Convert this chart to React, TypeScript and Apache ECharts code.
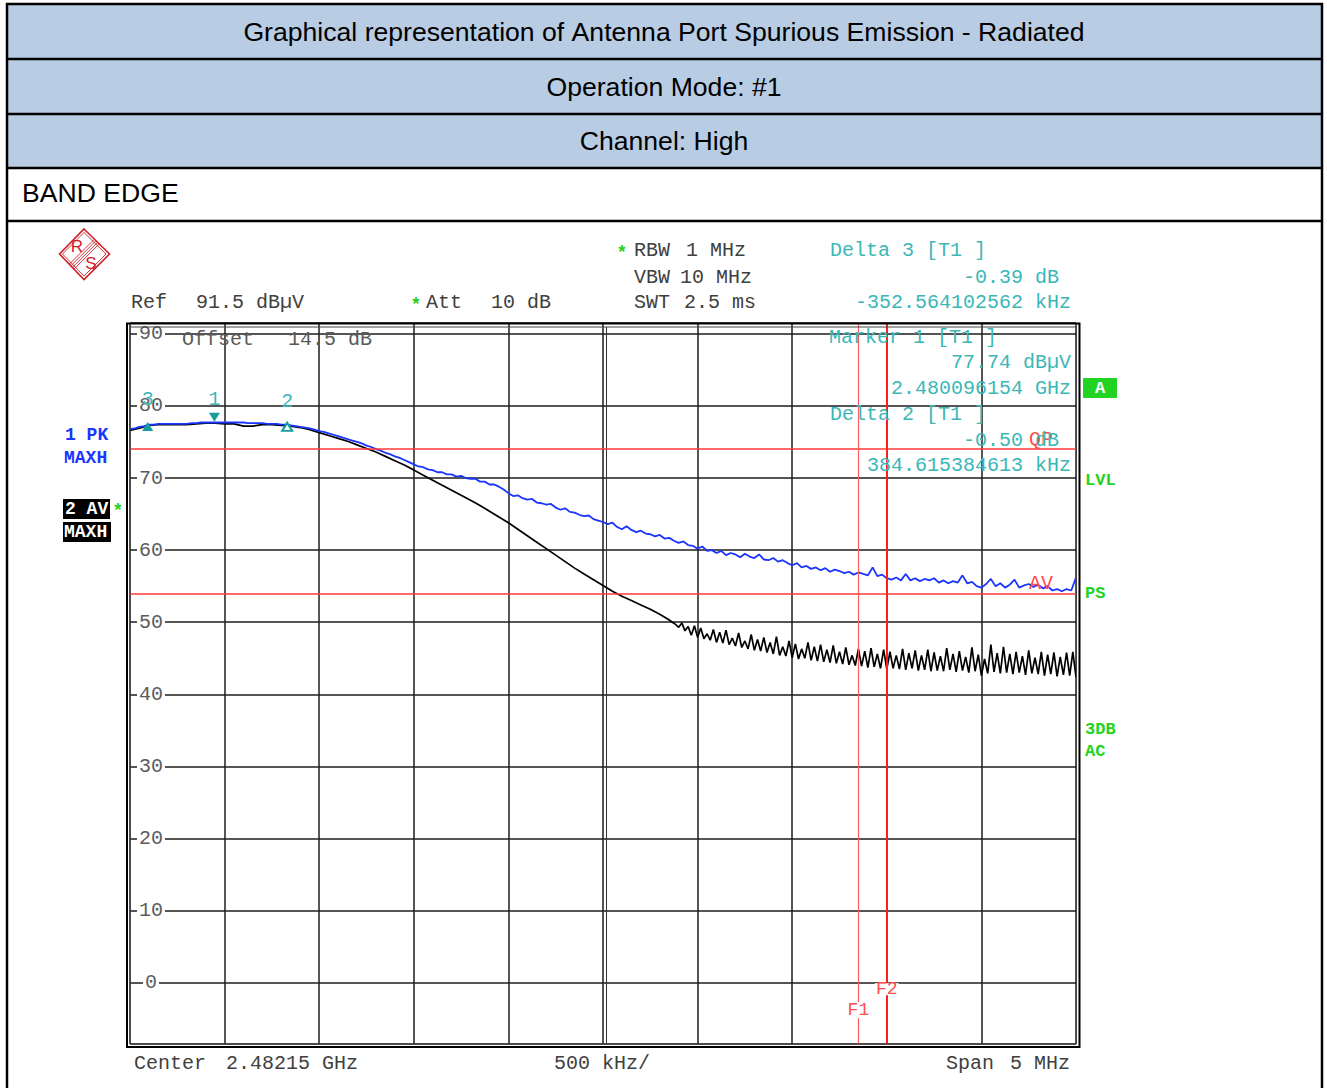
import React, { useEffect, useRef } from "react";
import * as echarts from "echarts";

// ---------------- data ----------------
const titleRows = [
  "Graphical representation of Antenna Port Spurious Emission - Radiated",
  "Operation Mode: #1",
  "Channel: High",
];
const sectionLabel = "BAND EDGE";

// frequency axis: offset (MHz) from start 2.47965 GHz (center 2.48215 GHz, span 5 MHz)
const spanMHz = 5;
const divMHz = 0.5;
const refLevel = 91.5;
const bottomLevel = -8.5;

// Trace 1: PK MAXH (blue), step 0.025 MHz
const pkStepMHz = 0.025;
const pkMaxHold = [
  76.8, 76.9, 77.1, 77.2, 77.4, 77.4, 77.5, 77.5, 77.5, 77.5, 77.5, 77.5, 77.5, 77.6, 77.6, 77.7, 77.7, 77.7, 77.7, 77.7,
  77.7, 77.7, 77.7, 77.7, 77.7, 77.6, 77.6, 77.6, 77.6, 77.5, 77.5, 77.5, 77.4, 77.4, 77.3, 77.2, 77.1, 77.0, 76.9, 76.7,
  76.5, 76.4, 76.2, 76.0, 75.8, 75.6, 75.4, 75.2, 75.0, 74.8, 74.5, 74.3, 74.0, 73.8, 73.5, 73.3, 73.0, 72.8, 72.5, 72.2,
  71.9, 71.6, 71.5, 71.2, 71.1, 70.8, 70.8, 70.5, 70.5, 70.2, 70.3, 70.0, 69.9, 69.9, 69.5, 69.5, 69.1, 69.1, 68.8, 68.4,
  67.9, 67.5, 67.6, 67.2, 67.0, 67.1, 66.6, 66.5, 66.3, 66.4, 65.9, 65.6, 65.8, 65.3, 65.2, 64.9, 64.7, 64.8, 64.3, 64.1,
  63.9, 63.6, 63.8, 63.2, 62.9, 63.3, 62.8, 62.5, 62.7, 62.3, 62.2, 61.9, 62.1, 61.6, 61.7, 61.3, 61.0, 61.2, 60.7, 60.6,
  60.2, 60.5, 59.9, 60.0, 59.6, 59.9, 59.3, 59.6, 59.4, 59.0, 59.5, 59.1, 58.9, 59.4, 58.7, 58.6, 58.9, 58.4, 58.6, 58.2,
  57.9, 58.2, 57.6, 57.8, 57.4, 57.6, 57.2, 57.5, 57.0, 57.3, 57.1, 56.8, 57.0, 56.6, 56.9, 56.7, 56.5, 57.6, 56.4, 56.6,
  56.1, 55.9, 56.2, 55.8, 56.7, 55.8, 56.1, 55.7, 56.0, 55.8, 56.1, 55.5, 55.8, 55.4, 55.7, 55.5, 56.5, 55.4, 55.6, 55.0,
  54.8, 55.3, 56.0, 55.0, 55.4, 54.8, 55.2, 55.9, 54.8, 55.1, 55.3, 54.9, 55.2, 54.7, 55.0, 54.4, 54.6, 54.3, 54.6, 54.4,
  56.2,
];

// Trace 2: AV MAXH (black): smooth part, step 0.05 MHz from 0 to 2.85 MHz
const avSmoothStepMHz = 0.05;
const avMaxHoldSmooth = [
  76.6, 76.9, 77.3, 77.4, 77.4, 77.4, 77.4, 77.5, 77.6, 77.6,
  77.5, 77.5, 77.2, 77.2, 77.4, 77.4, 77.3, 77.2, 77.0, 76.7,
  76.3, 75.9, 75.5, 75.1, 74.6, 74.1, 73.6, 73.0, 72.4, 71.8,
  71.1, 70.4, 69.7, 69.0, 68.3, 67.6, 66.9, 66.2, 65.4, 64.6,
  63.8, 62.9, 62.0, 61.1, 60.2, 59.3, 58.4, 57.5, 56.7, 55.9,
  55.1, 54.3, 53.6, 53.0, 52.4, 51.8, 51.1, 50.3,
];
// noisy part, step 1/60 MHz after 2.85 MHz
const avNoiseStartMHz = 2.85;
const avNoiseStepMHz = 1 / 60;
const avMaxHoldNoise = [
  50.0, 49.7, 49.3, 49.9, 48.8, 49.4, 48.2, 49.5, 47.9, 49.2, 47.7, 48.4,
  47.5, 49.0, 47.2, 48.6, 47.1, 48.9, 46.9, 47.8, 46.7, 48.5, 46.5, 47.4,
  46.3, 48.3, 46.1, 47.6, 46.0, 47.9, 45.8, 47.2, 45.6, 48.0, 45.4, 46.6,
  45.3, 47.4, 45.1, 47.0, 44.9, 46.3, 45.0, 47.2, 44.7, 46.6, 44.6, 46.9,
  44.5, 46.2, 44.4, 46.8, 44.3, 45.9, 44.2, 46.5, 44.1, 45.4, 44.0, 46.3,
  43.9, 46.0, 43.7, 46.4, 43.8, 45.6, 43.6, 46.2, 43.5, 45.9, 43.6, 45.4,
  43.5, 46.3, 43.4, 45.7, 43.6, 46.1, 43.3, 45.4, 43.4, 46.2, 43.2, 45.8,
  43.3, 45.3, 43.2, 46.4, 43.4, 45.6, 43.1, 46.0, 43.3, 45.2, 43.0, 46.5,
  43.2, 45.5, 42.6, 44.9, 42.9, 46.9, 43.1, 45.7, 42.9, 46.6, 43.0, 45.6,
  42.8, 45.9, 43.0, 45.3, 42.7, 46.1, 42.9, 45.1, 42.8, 45.9, 42.6, 45.5,
  42.8, 45.8, 42.5, 45.2, 42.7, 45.8, 42.6, 45.9, 42.4,
];

const limitQP = 74;
const limitAV = 54;
const f1MHz = 3.85;
const f2MHz = 4.0;

const markerIds = ["1", "2", "3"];
const markerFreqMHz = [0.446154, 0.830769, 0.09359];
const markerLevels = [77.74, 77.24, 77.35];

// ---------------- styling ----------------
const PAGE_W = 1327;
const PAGE_H = 1088;
const mono = "'Liberation Mono', 'DejaVu Sans Mono', monospace";
const sans = "'Liberation Sans', Arial, Helvetica, sans-serif";
const GRAY = "#404040";
const LGRAY = "#5a5a5a";
const CYAN = "#3bb7b7";
const TEAL = "#179c9c";
const GREEN = "#22d422";
const RED = "#ff3a3a";
const BLUE = "#1a35ff";
const LOGO = "#d0202a";

const nb = (s: string) => s.replace(/ /g, "\u00A0");

function T(
  x: number,
  y: number,
  text: string,
  fill: string,
  size = 20,
  align = "left",
  weight = "normal",
  family = mono
) {
  return {
    type: "text",
    x,
    y,
    z: 20,
    silent: true,
    style: {
      text: nb(text),
      fill,
      font: `${weight} ${size}px ${family}`,
      textAlign: align,
      textVerticalAlign: "middle",
    },
  };
}

function L(x1: number, y1: number, x2: number, y2: number, stroke: string, lineWidth: number, z = 15) {
  return { type: "line", z, silent: true, shape: { x1, y1, x2, y2 }, style: { stroke, lineWidth } };
}

function R(x: number, y: number, width: number, height: number, fill: string, stroke = "none", lineWidth = 0, z = 15) {
  return { type: "rect", z, silent: true, shape: { x, y, width, height }, style: { fill, stroke, lineWidth } };
}

function buildGraphics() {
  const g: any[] = [];
  // table header
  g.push(R(7, 4, 1315, 164, "#b8cce4", "none", 0, 1));
  [4, 59, 114, 168, 221].forEach((y) => g.push(L(6, y, 1323, y, "#000", 2.5, 16)));
  [7, 1322].forEach((x) => g.push(L(x, 3, x, PAGE_H, "#000", 2.5, 16)));
  const rowY = [32, 87, 141];
  titleRows.forEach((t, i) => g.push(T(664, rowY[i], t, "#000", 26.6, "center", "normal", sans)));
  g.push(T(22, 193, sectionLabel, "#000", 26.6, "left", "normal", sans));

  // R&S logo
  g.push({
    type: "polygon", z: 15, silent: true,
    shape: { points: [[84, 229], [109.5, 254], [84, 279.5], [59.5, 254]] },
    style: { fill: "none", stroke: LOGO, lineWidth: 1.6 },
  });
  g.push({
    type: "polygon", z: 15, silent: true,
    shape: { points: [[84, 232.5], [106, 254], [84, 276], [62.5, 254]] },
    style: { fill: "none", stroke: LOGO, lineWidth: 0.9 },
  });
  [-2.4, -0.8, 0.8, 2.4].forEach((d) => g.push(L(96.6 + d, 241.7 + d, 71.9 + d, 266.4 + d, LOGO, 0.9)));
  g.push(T(77, 246, "R", LOGO, 17, "center", "normal", sans));
  g.push(T(91, 263, "S", LOGO, 17, "center", "normal", sans));

  // instrument settings
  g.push(T(131, 302, "Ref", GRAY));
  g.push(T(196, 302, "91.5 dBµV", GRAY));
  g.push(T(416, 305, "*", GREEN, 18, "center", "bold"));
  g.push(T(426, 302, "Att", GRAY));
  g.push(T(491, 302, "10 dB", GRAY));
  g.push(T(622, 253, "*", GREEN, 18, "center", "bold"));
  g.push(T(634, 250, "RBW", GRAY));
  g.push(T(686, 250, "1 MHz", GRAY));
  g.push(T(634, 277, "VBW", GRAY));
  g.push(T(680, 277, "10 MHz", GRAY));
  g.push(T(634, 302, "SWT", GRAY));
  g.push(T(684, 302, "2.5 ms", GRAY));

  // marker readouts
  g.push(T(830, 250, "Delta 3 [T1 ]", CYAN));
  g.push(T(1071, 277, "-0.39 dB ", CYAN, 20, "right"));
  g.push(T(1071, 302, "-352.564102562 kHz", CYAN, 20, "right"));
  g.push(T(829, 337, "Marker 1 [T1 ]", CYAN));
  g.push(T(1071, 362, "77.74 dBµV", CYAN, 20, "right"));
  g.push(T(1071, 388, "2.480096154 GHz", CYAN, 20, "right"));
  g.push(T(830, 414, "Delta 2 [T1 ]", CYAN));
  g.push(T(1071, 440, "-0.50 dB ", CYAN, 20, "right"));
  g.push(T(1071, 465, "384.615384613 kHz", CYAN, 20, "right"));

  // offset note
  g.push(T(182, 339, "Offset", LGRAY));
  g.push(T(288, 339, "14.5 dB", LGRAY));

  // bottom annotations
  g.push(T(134, 1063, "Center", GRAY));
  g.push(T(226, 1063, "2.48215 GHz", GRAY));
  g.push(T(554, 1063, "500 kHz/", GRAY));
  g.push(T(946, 1063, "Span", GRAY));
  g.push(T(1010, 1063, "5 MHz", GRAY));

  // trace labels (left)
  g.push(T(65, 435, "1 PK", BLUE, 18, "left", "bold"));
  g.push(T(64, 458, "MAXH", BLUE, 18, "left", "bold"));
  g.push(R(63, 499, 47, 20, "#000"));
  g.push(T(65, 509, "2 AV", "#fff", 18, "left", "bold"));
  g.push(T(118, 511, "*", GREEN, 18, "center", "bold"));
  g.push(R(63, 522, 48, 20, "#000"));
  g.push(T(64, 532, "MAXH", "#fff", 18, "left", "bold"));

  // status labels (right)
  g.push(R(1083, 378, 34, 20, GREEN));
  g.push(T(1100, 388, "A", "#fff", 17, "center", "bold"));
  g.push(T(1085, 480, "LVL", GREEN, 17, "left", "bold"));
  g.push(T(1085, 593, "PS", GREEN, 17, "left", "bold"));
  g.push(T(1085, 729, "3DB", GREEN, 17, "left", "bold"));
  g.push(T(1085, 751, "AC", GREEN, 17, "left", "bold"));

  // screen frame (double border) and double centre line
  g.push(R(127, 323.5, 952.5, 723.5, "none", "#000", 2, 12));
  g.push(R(130, 327, 946.5, 717, "none", "#444", 1, 12));
  g.push(L(606.5, 327, 606.5, 1044, "#333", 1, 1));
  return g;
}

function buildOption() {
  const pkData = pkMaxHold.map((v, i) => [i * pkStepMHz, v]);
  const avData = [
    ...avMaxHoldSmooth.map((v, i) => [i * avSmoothStepMHz, v]),
    ...avMaxHoldNoise.map((v, k) => [avNoiseStartMHz + (k + 1) * avNoiseStepMHz, v]),
  ];

  const markerStyles = [
    { symbol: "triangle", symbolRotate: 180, symbolSize: [11, 9], symbolOffset: [0, -5], dist: 3 },
    { symbol: "emptyTriangle", symbolRotate: 0, symbolSize: [10, 8], symbolOffset: [0, 1], dist: 10 },
    { symbol: "triangle", symbolRotate: 0, symbolSize: [11, 9], symbolOffset: [0, 1.5], dist: 13 },
  ];

  const markerData = markerIds.map((id, i) => ({
    coord: [markerFreqMHz[i], markerLevels[i]],
    symbol: markerStyles[i].symbol,
    symbolRotate: markerStyles[i].symbolRotate,
    symbolSize: markerStyles[i].symbolSize,
    symbolOffset: markerStyles[i].symbolOffset,
    itemStyle: { color: TEAL, borderWidth: 1.4 },
    label: {
      show: true,
      formatter: id,
      position: "top",
      distance: markerStyles[i].dist,
      color: CYAN,
      fontFamily: mono,
      fontSize: 20,
    },
  }));

  const redLabel = { color: "#ff4d4d", fontFamily: mono, fontSize: 20 };

  return {
    animation: false,
    backgroundColor: "#fff",
    grid: { left: 130, right: PAGE_W - 1076, top: 323, bottom: PAGE_H - 1044, show: false },
    xAxis: {
      type: "value",
      min: 0,
      max: spanMHz,
      interval: divMHz,
      axisLine: { show: false },
      axisTick: { show: false },
      axisLabel: { show: false },
      splitLine: { show: true, lineStyle: { color: "#1c1c1c", width: 1.5 } },
    },
    yAxis: [
      {
        type: "value",
        min: bottomLevel,
        max: refLevel,
        splitNumber: 10,
        axisLine: { show: false },
        axisTick: { show: false },
        axisLabel: { show: false },
        splitLine: { show: true, lineStyle: { color: "#1c1c1c", width: 1.5 } },
      },
      {
        type: "value",
        min: bottomLevel,
        max: refLevel,
        splitNumber: 10,
        z: 1,
        position: "left",
        axisLine: { show: false },
        axisTick: { show: false },
        splitLine: { show: false },
        axisLabel: {
          show: true,
          inside: true,
          margin: 21,
          align: "center",
          showMinLabel: false,
          showMaxLabel: false,
          color: "#5c5c5c",
          fontFamily: mono,
          fontSize: 20,
          backgroundColor: "#fff",
          padding: [0, 2],
          lineHeight: 16,
        },
      },
    ],
    graphic: buildGraphics(),
    series: [
      {
        name: "2 AV MAXH",
        type: "line",
        data: avData,
        showSymbol: false,
        symbol: "none",
        z: 3,
        lineStyle: { color: "#000", width: 1.7 },
        markLine: {
          silent: true,
          symbol: ["none", "none"],
          animation: false,
          data: [
            {
              yAxis: limitQP,
              lineStyle: { color: RED, width: 1.5, type: "solid" },
              label: { show: true, formatter: "QP", position: "insideEndTop", distance: [23, 0], ...redLabel },
            },
            {
              yAxis: limitAV,
              lineStyle: { color: RED, width: 1.5, type: "solid" },
              label: { show: true, formatter: "AV", position: "insideEndTop", distance: [23, 0], ...redLabel },
            },
            { xAxis: f1MHz, lineStyle: { color: "#ff5c5c", width: 1.2, type: "solid" }, label: { show: false } },
            { xAxis: f2MHz, lineStyle: { color: "#ff1e1e", width: 2, type: "solid" }, label: { show: false } },
          ],
        },
        markPoint: {
          silent: true,
          animation: false,
          data: [
            {
              coord: [f1MHz, -3.8],
              symbol: "rect",
              symbolSize: [24, 16],
              itemStyle: { color: "#fff" },
              label: { show: true, formatter: "F1", position: "inside", ...redLabel, fontSize: 18 },
            },
            {
              coord: [f2MHz, -0.9],
              symbol: "rect",
              symbolSize: [24, 12],
              itemStyle: { color: "#fff" },
              label: { show: true, formatter: "F2", position: "inside", ...redLabel, fontSize: 18 },
            },
          ],
        },
      },
      {
        name: "1 PK MAXH",
        type: "line",
        data: pkData,
        showSymbol: false,
        symbol: "none",
        z: 4,
        lineStyle: { color: BLUE, width: 1.8 },
        markPoint: { silent: true, animation: false, data: markerData },
      },
    ],
  };
}

export default function App() {
  const ref = useRef<HTMLDivElement>(null);
  useEffect(() => {
    const chart = echarts.init(ref.current as HTMLDivElement, null, { renderer: "svg" });
    chart.setOption(buildOption() as any);
    return () => chart.dispose();
  }, []);
  return (
    <div
      ref={ref}
      style={{ position: "absolute", left: 0, top: 0, width: PAGE_W, height: PAGE_H, background: "#fff" }}
    />
  );
}
